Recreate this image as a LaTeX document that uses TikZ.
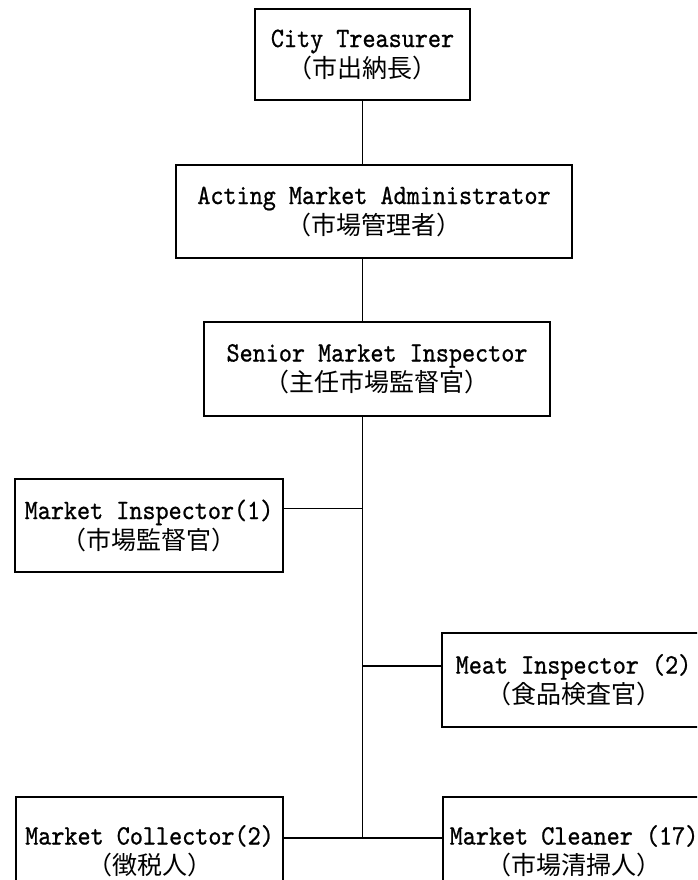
\documentclass[tikz,border=0pt]{standalone}
\usepackage{fontspec}
\newfontfamily\cjk{Noto Sans CJK JP}
\newfontfamily\typew{lmmono10-regular.otf}[FakeBold=0.8, FakeStretch=0.89]
\newcommand{\jp}[1]{{\cjk\fontsize{25}{30}\selectfont #1}}

\begin{document}
\begin{tikzpicture}[
  x=1pt, y=-1pt,
  box/.style={draw, line width=1.3pt, align=center, inner sep=0pt, minimum width=#1, minimum height=93pt, font=\typew\fontsize{28}{30}\selectfont},
  box/.default=260pt,
  link/.style={line width=1.3pt}
]
\useasboundingbox (0,0) rectangle (697,880);
\clip (0,0) rectangle (697,880);

\node[box=215pt, minimum height=91pt] (city) at (362.5,54.5) {City Treasurer\\ \jp{（市出納長）}};
\node[box=396pt] (acting) at (374,211.5) {Acting Market Administrator\\ \jp{（市場管理者）}};
\node[box=346pt, minimum height=94pt] (senior) at (377,369) {Senior Market Inspector\\ \jp{（主任市場監督官）}};

\node[box=268pt] (insp) at (149,525.5) {Market Inspector(1)\\ \jp{（市場監督官）}};
\node[box=263pt, minimum height=94pt] (meat) at (573.5,680) {Meat Inspector (2)\\ \jp{（食品検査官）}};

\node[box=267pt, minimum height=108pt] (coll) at (149.5,851) {Market Collector(2)\\ \jp{（徴税人）}};
\node[box=262pt, minimum height=108pt] (clean) at (574,851) {Market Cleaner (17)\\ \jp{（市場清掃人）}};

\coordinate (insp link) at ([yshift=17pt]insp.east);
\coordinate (meat link) at ([yshift=14pt]meat.west);
\coordinate (coll link) at ([yshift=13pt]coll.east);

\draw[link] (city.south) -- (city.south |- acting.north);
\draw[link] (acting.south -| city.south) -- (senior.north -| city.south);
\draw[link] (senior.south -| city.south) -- (coll link -| city.south);
\draw[link] (insp link) -- (insp link -| city.south);
\draw[link] (meat link -| city.south) -- (meat link);
\draw[link] (coll link) -- (coll link -| clean.west);
\end{tikzpicture}
\end{document}
